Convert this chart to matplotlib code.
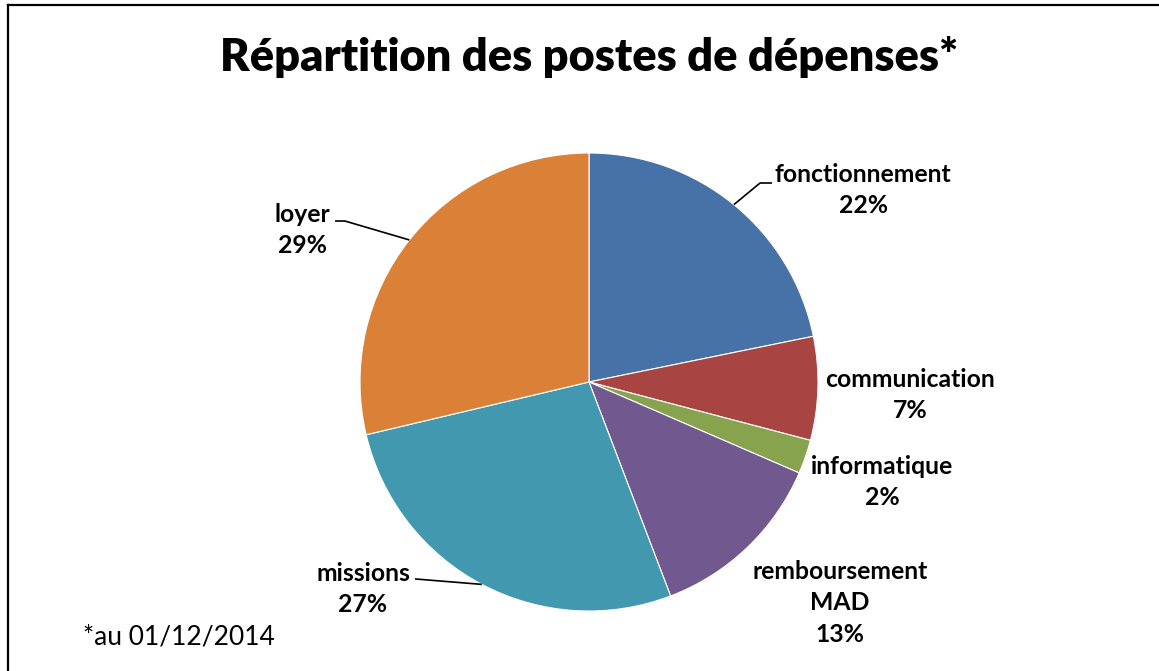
import matplotlib
matplotlib.use("Agg")
import matplotlib.pyplot as plt
import numpy as np
from matplotlib.lines import Line2D

categories = ["fonctionnement", "communication", "informatique",
              "remboursement\nMAD", "missions", "loyer"]
values = [21.8, 7.3, 2.4, 12.7, 27.1, 28.7]
colors = ["#4672A7", "#A84543", "#87A34D", "#71588F", "#4298AF", "#DA8137"]

title = "Répartition des postes de dépenses*"
footnote = "*au 01/12/2014"

# label layout (data coords, pie radius = 1)
label_pos = [(1.197, 0.838), (1.402, -0.057), (1.279, -0.437),
             (1.096, -0.965), (-0.987, -0.904), (-1.253, 0.664)]
# leader lines: (elbow, end) or None
leaders = [((0.747, 0.869), (0.799, 0.869)), None, None, None,
           ((-0.76, -0.86), (-0.76, -0.86)),
           ((-1.066, 0.703), (-1.109, 0.703))]

W, H = 1159, 671
fig = plt.figure(figsize=(W / 100, H / 100), dpi=100)
fig.patch.set_facecolor("white")

cx, cy, r = 589, 382, 229
ax = fig.add_axes([(cx - r) / W, (H - cy - r) / H, 2 * r / W, 2 * r / H])

wedges, _ = ax.pie(values, colors=colors, startangle=90, counterclock=False,
                   radius=1, wedgeprops=dict(edgecolor="white", linewidth=0.8))
ax.set_xlim(-1, 1)
ax.set_ylim(-1, 1)
ax.set_aspect("equal")
ax.axis("off")

font = "Lato"
for i, (w, cat, v) in enumerate(zip(wedges, categories, values)):
    lx, ly = label_pos[i]
    ax.text(lx, ly, f"{cat}\n{v:.0f}%", ha="center", va="center",
            fontsize=17.8, fontweight="bold", family=font,
            linespacing=1.45, clip_on=False)
    if leaders[i] is not None:
        mid = np.deg2rad((w.theta1 + w.theta2) / 2)
        ex, ey = np.cos(mid), np.sin(mid)
        (bx, by), (tx, ty) = leaders[i]
        ax.plot([ex, bx, tx], [ey, by, ty], color="black", lw=1.2,
                clip_on=False, solid_capstyle="butt")

fig.text(589 / W, 1 - 57 / H, title, ha="center", va="center",
         fontsize=32.5, fontweight="heavy", family=font)
fig.text(83 / W, 1 - 637 / H, footnote, ha="left", va="center",
         fontsize=19, family=font)

# chart border (top and left visible)
fig.add_artist(Line2D([8 / W, 1.0], [1 - 5 / H, 1 - 5 / H],
                      transform=fig.transFigure, color="black", lw=1.6))
fig.add_artist(Line2D([8 / W, 8 / W], [0, 1 - 5 / H],
                      transform=fig.transFigure, color="black", lw=1.6))

fig.savefig("out.png", dpi=100, facecolor="white")
